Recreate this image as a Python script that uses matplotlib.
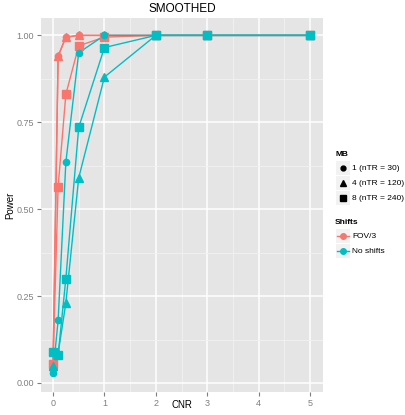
import numpy as np
import matplotlib.pyplot as plt
from matplotlib.patches import Rectangle
from matplotlib.lines import Line2D

plt.rcParams['font.family'] = ['Liberation Sans', 'DejaVu Sans']

cnr = [0, 0.1, 0.25, 0.5, 1, 2, 3, 5]
mb_labels = ["1 (nTR = 30)", "4 (nTR = 120)", "8 (nTR = 240)"]
shift_labels = ["FOV/3", "No shifts"]

# power per shift condition and multiband factor
fov_circle = [0.04, 0.94, 0.995, 1.0, 1.0, 1.0, 1.0, 1.0]
fov_triangle = [0.05, 0.94, 0.995, 1.0, 1.0, 1.0, 1.0, 1.0]
fov_square = [0.055, 0.565, 0.83, 0.97, 0.995, 1.0, 1.0, 1.0]
nos_circle = [0.03, 0.18, 0.635, 0.95, 1.0, 1.0, 1.0, 1.0]
nos_triangle = [0.05, 0.085, 0.23, 0.59, 0.88, 1.0, 1.0, 1.0]
nos_square = [0.09, 0.08, 0.30, 0.735, 0.965, 1.0, 1.0, 1.0]

red = "#F8766D"
cyan = "#00BFC4"
markers = ["o", "^", "s"]
msizes = [4.5, 5.5, 5.5]

series = [
    (fov_circle, red, 0), (fov_triangle, red, 1), (fov_square, red, 2),
    (nos_circle, cyan, 0), (nos_triangle, cyan, 1), (nos_square, cyan, 2),
]

W, H = 405, 415
fig = plt.figure(figsize=(W / 100, H / 100), dpi=100)
ax = fig.add_axes([41 / W, 1 - 392 / H, (323 - 41) / W, (392 - 18) / H])
ax.set_facecolor("#E5E5E5")
for s in ax.spines.values():
    s.set_visible(False)

ax.set_xlim(-0.233, 5.25)
ax.set_ylim(-0.026, 1.05)
ax.set_xticks([0, 1, 2, 3, 4, 5])
ax.set_yticks([0, 0.25, 0.5, 0.75, 1.0])
ax.set_yticklabels(["0.00", "0.25", "0.50", "0.75", "1.00"])
ax.set_xticks(np.arange(0.5, 5.5, 1.0), minor=True)
ax.set_yticks([0.125, 0.375, 0.625, 0.875], minor=True)
ax.grid(True, which="major", color="white", lw=1.1)
ax.grid(True, which="minor", color="#F2F2F2", lw=0.6)
ax.set_axisbelow(True)
ax.tick_params(which="major", colors="#7F7F7F", labelsize=6.5, length=3, width=0.8, pad=2)
ax.tick_params(which="minor", length=0)

for vals, col, m in series:
    ax.plot(cnr, vals, color=col, lw=1.0, zorder=2)
for vals, col, m in series:
    ax.plot(cnr, vals, ls="none", marker=markers[m], ms=msizes[m], color=col, zorder=3)

ax.set_title("SMOOTHED", fontsize=8.5, pad=4)


def fx(px):
    return px / W


def fy(py):
    return 1 - py / H


fig.text(fx(182), fy(405), "CNR", fontsize=7, ha="center", va="center")
fig.text(fx(10), fy(205), "Power", fontsize=7, ha="center", va="center", rotation=90)

# legend drawn by hand, ggplot style
fig.text(fx(335), fy(154), "MB", fontsize=6, fontweight="bold", va="center")
for i, lab in enumerate(mb_labels):
    yc = 168 + 15 * i
    fig.patches.append(Rectangle((fx(336), fy(yc + 7)), 14 / W, 14 / H,
                                 transform=fig.transFigure, color="#F2F2F2", lw=0))
    fig.lines.append(Line2D([fx(343)], [fy(yc)], transform=fig.transFigure, ls="none",
                            marker=markers[i], ms=msizes[i] - 1, color="black"))
    fig.text(fx(352), fy(yc), lab, fontsize=6, va="center")

fig.text(fx(335), fy(222), "Shifts", fontsize=6, fontweight="bold", va="center")
for i, (lab, col) in enumerate(zip(shift_labels, [red, cyan])):
    yc = 236 + 15 * i
    fig.patches.append(Rectangle((fx(336), fy(yc + 7)), 14 / W, 14 / H,
                                 transform=fig.transFigure, color="#F2F2F2", lw=0))
    fig.lines.append(Line2D([fx(337), fx(349)], [fy(yc), fy(yc)], transform=fig.transFigure,
                            color=col, lw=1.0))
    fig.lines.append(Line2D([fx(343)], [fy(yc)], transform=fig.transFigure, ls="none",
                            marker="o", ms=4, color=col))
    fig.text(fx(352), fy(yc), lab, fontsize=6, va="center")

fig.savefig("out.png", dpi=100)
